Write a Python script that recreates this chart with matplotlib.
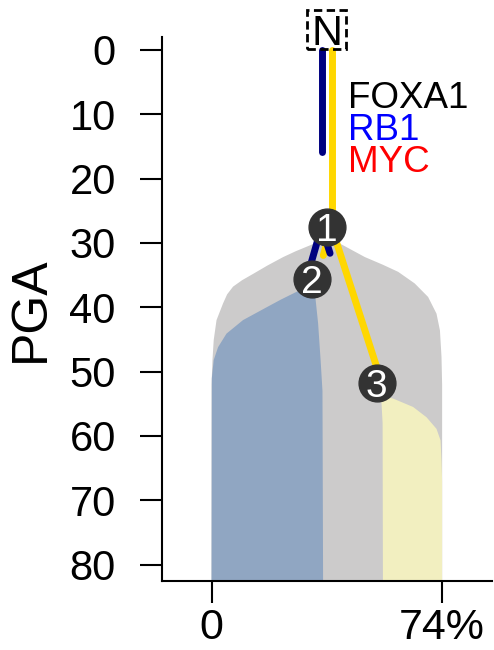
import matplotlib
matplotlib.use('Agg')
import matplotlib.pyplot as plt
from matplotlib.patches import Rectangle
from matplotlib.transforms import offset_copy, ScaledTranslation

plt.rcParams['font.family'] = ['Liberation Sans', 'DejaVu Sans']

# Data

pga_ticks = [0, 10, 20, 30, 40, 50, 60, 70, 80]
x_ticks = [0, 74]
x_ticklabels = ['0', '74%']

genes = ['FOXA1', 'RB1', 'MYC']
gene_colors = ['black', 'blue', 'red']
gene_x = 43.7
gene_pga = [9.0, 14.0, 19.0]

normal_x = 36.9
normal_pga = 0.0
normal_label_pga = -3.1

node_names = ['1', '2', '3']
node_x = [36.9, 32.1, 53.0]
node_pga = [27.5, 35.6, 51.7]

# edges: parent -> child, share of the edge drawn in navy / gold
edge_parent = ['N', '1', '1']
edge_child = ['1', '2', '3']
navy_frac = [0.58, 1.0, 0.17]
gold_frac = [1.0, 0.55, 1.0]

# clone outlines (x in %, against PGA)
gray_left_pga = [29.4, 30.4, 31.3, 32.2, 33.5, 34.8, 35.8, 36.8, 38.0, 39.4, 42.0, 45.1, 48.2, 52.0, 82.5]
gray_left_x = [36.5, 31.5, 27.0, 23.0, 18.0, 13.4, 9.8, 6.9, 5.0, 3.7, 1.6, 0.7, 0.3, 0.0, 0.0]
gray_right_pga = [29.4, 30.1, 31.1, 32.2, 33.4, 34.5, 36.3, 38.4, 41.0, 43.6, 47.7, 52.0, 82.5]
gray_right_x = [36.5, 41.2, 45.0, 49.2, 55.0, 59.9, 65.2, 69.5, 72.2, 73.3, 73.8, 74.0, 74.0]

blue_left_pga = [36.8, 37.6, 38.8, 40.0, 42.0, 44.1, 46.2, 48.2, 51.0, 82.5]
blue_left_x = [32.0, 27.3, 22.3, 17.7, 10.1, 4.8, 2.1, 0.7, 0.1, 0.0]
blue_right_pga = [36.8, 37.9, 42.5, 48.2, 53.0, 82.5]
blue_right_x = [32.0, 33.2, 34.2, 35.0, 35.6, 35.8]

yellow_left_pga = [53.9, 54.5, 58.0, 82.5]
yellow_left_x = [55.3, 54.5, 54.9, 55.0]
yellow_right_pga = [53.9, 54.2, 55.5, 57.1, 58.9, 60.7, 63.8, 67.0, 82.5]
yellow_right_x = [55.3, 58.3, 64.7, 69.0, 72.2, 73.5, 73.8, 74.0, 74.0]

# Plot

fig = plt.figure(figsize=(4.94, 6.5), dpi=100)
ax = fig.add_axes([0.3273, 0.1066, 0.6686, 0.8365])


def outline(left_x, left_y, right_x, right_y):
    xs = list(left_x) + list(right_x)[::-1]
    ys = list(left_y) + list(right_y)[::-1]
    return xs, ys


xs, ys = outline(gray_left_x, gray_left_pga, gray_right_x, gray_right_pga)
ax.fill(xs, ys, color='#cccbcb', lw=0, zorder=1)
xs, ys = outline(blue_left_x, blue_left_pga, blue_right_x, blue_right_pga)
ax.fill(xs, ys, color='#90a6c2', lw=0, zorder=2)
xs, ys = outline(yellow_left_x, yellow_left_pga, yellow_right_x, yellow_right_pga)
ax.fill(xs, ys, color='#f2efc0', lw=0, zorder=2)

pos = {'N': (normal_x, normal_pga)}
for name, x, y in zip(node_names, node_x, node_pga):
    pos[name] = (x, y)

navy_tr = offset_copy(ax.transData, fig=fig, x=-5, y=0, units='dots')
gold_tr = offset_copy(ax.transData, fig=fig, x=5, y=0, units='dots')

for p, c, fn, fg in zip(edge_parent, edge_child, navy_frac, gold_frac):
    x0, y0 = pos[p]
    x1, y1 = pos[c]
    ax.plot([x0, x0 + (x1 - x0) * fn], [y0, y0 + (y1 - y0) * fn], color='#000080',
            lw=5, solid_capstyle='round', transform=navy_tr, zorder=3, clip_on=False)
    ax.plot([x0, x0 + (x1 - x0) * fg], [y0, y0 + (y1 - y0) * fg], color='#ffd700',
            lw=5, solid_capstyle='round', transform=gold_tr, zorder=3, clip_on=False)

ax.plot(node_x, node_pga, 'o', ms=26.5, color='#333333', mec='#333333', zorder=4)
for name, x, y in zip(node_names, node_x, node_pga):
    ax.text(x, y, name, color='white', fontsize=28, ha='center', va='center_baseline', zorder=5)

# normal sample: "N" in a dashed square
n_tr = offset_copy(ax.transData, fig=fig, x=0, y=-15, units='dots')
ax.text(normal_x, normal_label_pga, 'N', fontsize=31, ha='center', va='baseline', zorder=5,
        transform=n_tr)
box_tr = fig.dpi_scale_trans + ScaledTranslation(normal_x, normal_label_pga, ax.transData)
ax.add_patch(Rectangle((-0.195, -0.195), 0.39, 0.39, transform=box_tr, fill=False,
                       ls=(0, (3, 1.6)), lw=2, ec='black', clip_on=False, zorder=5))

for g, c, y in zip(genes, gene_colors, gene_pga):
    ax.text(gene_x, y, g, color=c, fontsize=26.5, ha='left', va='baseline')

ax.set_xlim(-16, 90)
ax.set_ylim(82.5, -2)
ax.set_yticks(pga_ticks)
ax.set_xticks(x_ticks)
ax.set_xticklabels(x_ticklabels)
ax.tick_params(labelsize=30, length=16, width=1.5)
ax.tick_params(axis='y', pad=17)
ax.tick_params(axis='x', pad=4, labelsize=31)
ax.spines['top'].set_visible(False)
ax.spines['right'].set_visible(False)
ax.spines['left'].set_linewidth(1.5)
ax.spines['bottom'].set_linewidth(1.5)
ax.set_ylabel('PGA', fontsize=36)
ax.yaxis.set_label_coords(-0.325, 0.5)

plt.savefig('out.png', dpi=100)
plt.close(fig)
